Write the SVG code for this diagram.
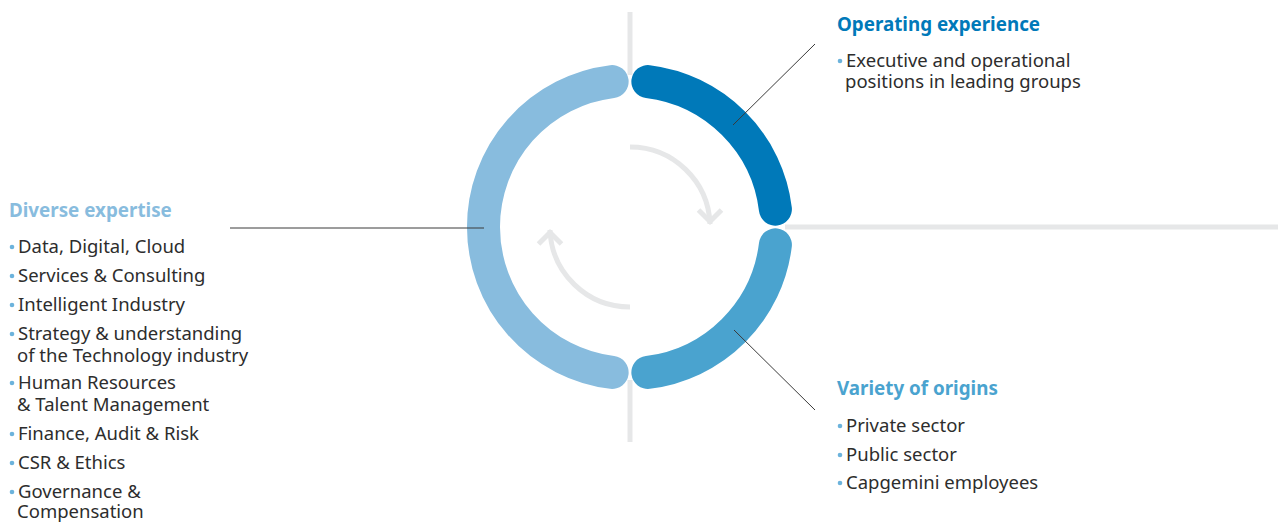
<svg xmlns="http://www.w3.org/2000/svg" width="1278" height="525" viewBox="0 0 1278 525">
<style>
.t{font-family:"Noto Sans","Liberation Sans",sans-serif;font-size:18.5px;fill:#2d2d2d}
.h{font-family:"Noto Sans","Liberation Sans",sans-serif;font-size:18.8px;font-weight:bold}
.ring{fill:none;stroke-width:33;stroke-linecap:round}
.g{stroke:#e6e7e8;stroke-width:5;fill:none}
.c{stroke:#3a3a3a;stroke-width:1;fill:none}
.b{fill:#6cb3dc}
</style>
<rect width="1278" height="525" fill="#fff"/>
<g id="axes">
<line class="g" x1="630" y1="12" x2="630" y2="75"/>
<line class="g" x1="630" y1="380" x2="630" y2="442"/>
<line class="g" x1="785" y1="227" x2="1278" y2="227"/>
</g>
<g id="ring">
<path class="ring" stroke="#0079b9" d="M647.85,81.59 A146.5,146.5 0 0 1 775.41,209.15"/>
<path class="ring" stroke="#4aa3cf" d="M775.41,244.85 A146.5,146.5 0 0 1 647.85,372.41"/>
<path class="ring" stroke="#88bcde" d="M612.15,372.41 A146.5,146.5 0 0 1 612.15,81.59"/>
</g>
<g id="cycle-arrows">
<path class="g" d="M630,147 A80,80 0 0 1 710,224"/>
<path class="g" d="M698.5,210 L710,221.5 L721.5,210"/>
<path class="g" d="M630,307 A80,80 0 0 1 550,230"/>
<path class="g" d="M538.5,244 L550,232.5 L561.5,244"/>
</g>
<g id="connectors">
<line class="c" x1="733" y1="125" x2="815" y2="44"/>
<line class="c" x1="230" y1="228" x2="484" y2="228"/>
<line class="c" x1="734" y1="330" x2="815" y2="410"/>
</g>
<g id="operating-experience">
<text class="h" x="837" y="31" fill="#0079b9">Operating experience</text>
<circle class="b" cx="840" cy="61" r="2.3"/>
<text class="t"><tspan x="846" y="67">Executive and operational</tspan><tspan x="845" y="88">positions in leading groups</tspan></text>
</g>
<g id="variety-of-origins">
<text class="h" x="837" y="395" fill="#4aa3cf">Variety of origins</text>
<circle class="b" cx="840" cy="426" r="2.3"/>
<text class="t" x="846" y="432">Private sector</text>
<circle class="b" cx="840" cy="455" r="2.3"/>
<text class="t" x="846" y="461">Public sector</text>
<circle class="b" cx="840" cy="483" r="2.3"/>
<text class="t" x="846" y="489">Capgemini employees</text>
</g>
<g id="diverse-expertise">
<text class="h" x="9" y="217" fill="#88bcde">Diverse expertise</text>
<circle class="b" cx="12" cy="247" r="2.3"/>
<text class="t" x="18" y="253">Data, Digital, Cloud</text>
<circle class="b" cx="12" cy="276" r="2.3"/>
<text class="t" x="18" y="282">Services &amp; Consulting</text>
<circle class="b" cx="12" cy="305" r="2.3"/>
<text class="t" x="18" y="311">Intelligent Industry</text>
<circle class="b" cx="12" cy="334" r="2.3"/>
<text class="t"><tspan x="18" y="340">Strategy &amp; understanding</tspan><tspan x="17" y="362">of the Technology industry</tspan></text>
<circle class="b" cx="12" cy="383" r="2.3"/>
<text class="t"><tspan x="18" y="389">Human Resources</tspan><tspan x="17" y="411">&amp; Talent Management</tspan></text>
<circle class="b" cx="12" cy="434" r="2.3"/>
<text class="t" x="18" y="440">Finance, Audit &amp; Risk</text>
<circle class="b" cx="12" cy="463" r="2.3"/>
<text class="t" x="18" y="469">CSR &amp; Ethics</text>
<circle class="b" cx="12" cy="492" r="2.3"/>
<text class="t"><tspan x="18" y="498">Governance &amp;</tspan><tspan x="17" y="518">Compensation</tspan></text>
</g>
</svg>
